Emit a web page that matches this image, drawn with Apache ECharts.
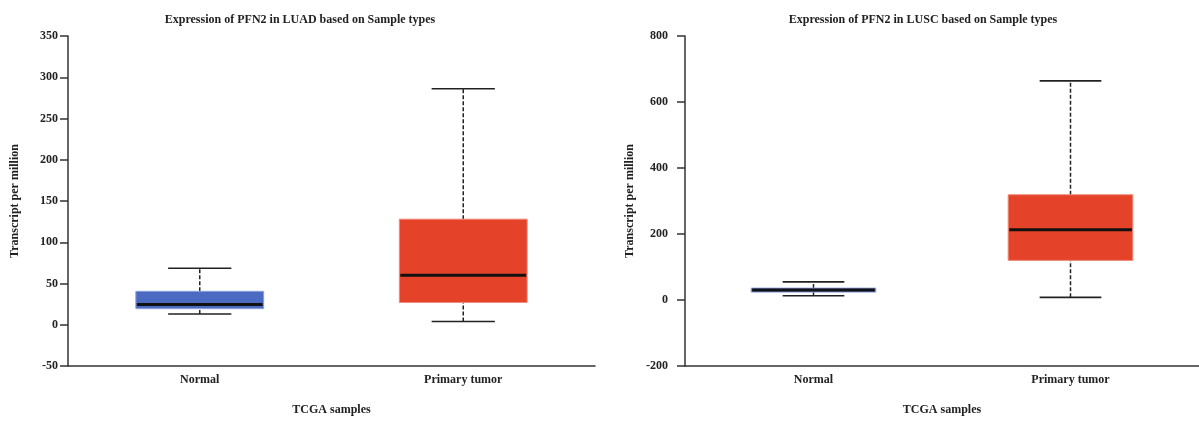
<!DOCTYPE html>
<html>
<head>
<meta charset="utf-8">
<script src="https://cdn.jsdelivr.net/npm/echarts@6/dist/echarts.min.js"></script>
<style>html,body{margin:0;padding:0;background:#fff}#c{width:1199px;height:421px}</style>
</head>
<body>
<div id="c"></div>
<script>
const categories = ['Normal', 'Primary tumor'];
// [min, Q1, median, Q3, max]
const luadNormal = [13, 19.5, 24.5, 40.5, 68.5];
const luadTumor = [4, 27, 60, 128, 286];
const luscNormal = [13, 24, 30, 36, 55];
const luscTumor = [8, 120, 213, 319, 664];
const luadTicks = [-50, 350, 50];
const luscTicks = [-200, 800, 200];
const titles = ['Expression of PFN2 in LUAD based on Sample types', 'Expression of PFN2 in LUSC based on Sample types'];
const yName = 'Transcript per million';
const xName = 'TCGA samples';

const fills = ['#4a6bc1', '#e4432a'];
const strokes = ['#8aa0dc', '#f08a78'];
const font = 'Liberation Serif';

function renderItem(params, api) {
  const x = api.value(0);
  const ci = api.value(6);
  const pMin = api.coord([x, api.value(1)]);
  const pQ1 = api.coord([x, api.value(2)]);
  const pMed = api.coord([x, api.value(3)]);
  const pQ3 = api.coord([x, api.value(4)]);
  const pMax = api.coord([x, api.value(5)]);
  const band = api.size([1, 0])[0];
  const bw = band * 0.485, cw = band * 0.24;
  const cx = pMed[0];
  const lineStyle = {stroke: '#222', lineWidth: 1.6};
  return {
    type: 'group',
    children: [
      {type: 'line', shape: {x1: cx, y1: pQ3[1], x2: cx, y2: pMax[1]}, style: {stroke: '#222', lineWidth: 1.5, lineDash: [4, 2]}},
      {type: 'line', shape: {x1: cx, y1: pMin[1], x2: cx, y2: pQ1[1]}, style: {stroke: '#222', lineWidth: 1.5, lineDash: [4, 2]}},
      {type: 'line', shape: {x1: cx - cw / 2, y1: pMax[1], x2: cx + cw / 2, y2: pMax[1]}, style: lineStyle},
      {type: 'line', shape: {x1: cx - cw / 2, y1: pMin[1], x2: cx + cw / 2, y2: pMin[1]}, style: lineStyle},
      {type: 'rect', shape: {x: cx - bw / 2, y: pQ3[1], width: bw, height: pQ1[1] - pQ3[1]}, style: {fill: fills[ci], stroke: strokes[ci], lineWidth: 1}},
      {type: 'line', shape: {x1: cx - bw / 2 + 1, y1: pMed[1], x2: cx + bw / 2 - 1, y2: pMed[1]}, style: {stroke: '#111', lineWidth: 3}}
    ]
  };
}

const labelStyle = {fontFamily: font, fontWeight: 'bold', fontSize: 12, color: '#222'};
const axisLine = {show: true, onZero: false, lineStyle: {color: '#333', width: 1.5}};

function yAxis(idx, t, margin, gap) {
  return {
    type: 'value', gridIndex: idx, min: t[0], max: t[1], interval: t[2],
    name: yName, nameLocation: 'middle', nameGap: gap,
    nameTextStyle: {fontFamily: font, fontWeight: 'bold', fontSize: 12, color: '#222'},
    axisLine: axisLine, axisTick: {show: true, length: 8, lineStyle: {color: '#333', width: 1.5}},
    axisLabel: Object.assign({margin: margin}, labelStyle), splitLine: {show: false}
  };
}
function xAxis(idx) {
  return {
    type: 'category', gridIndex: idx, data: categories,
    name: xName, nameLocation: 'middle', nameGap: 38,
    nameTextStyle: {fontFamily: font, fontWeight: 'bold', fontSize: 12, color: '#222'},
    axisLine: axisLine, axisTick: {show: false},
    axisLabel: Object.assign({margin: 8}, labelStyle)
  };
}
function mk(arr, i) { return [i].concat(arr).concat([i]); }

const chart = echarts.init(document.getElementById('c'), null, {renderer: 'canvas'});
chart.setOption({
  animation: false,
  backgroundColor: '#fff',
  title: [
    {text: titles[0], left: 295, top: 9, textAlign: 'center', textStyle: {fontFamily: font, fontWeight: 'bold', fontSize: 12, color: '#222'}},
    {text: titles[1], left: 918, top: 9, textAlign: 'center', textStyle: {fontFamily: font, fontWeight: 'bold', fontSize: 12, color: '#222'}}
  ],
  grid: [
    {left: 68, top: 36, width: 527, height: 330},
    {left: 685, top: 36, width: 520, height: 330}
  ],
  xAxis: [xAxis(0), xAxis(1)],
  yAxis: [yAxis(0, luadTicks, 10, 47), yAxis(1, luscTicks, 17, 49)],
  series: [
    {type: 'custom', xAxisIndex: 0, yAxisIndex: 0, renderItem: renderItem,
     encode: {x: 0, y: [1, 2, 3, 4, 5]}, data: [mk(luadNormal, 0), mk(luadTumor, 1)]},
    {type: 'custom', xAxisIndex: 1, yAxisIndex: 1, renderItem: renderItem,
     encode: {x: 0, y: [1, 2, 3, 4, 5]}, data: [mk(luscNormal, 0), mk(luscTumor, 1)]}
  ]
});
</script>
</body>
</html>
